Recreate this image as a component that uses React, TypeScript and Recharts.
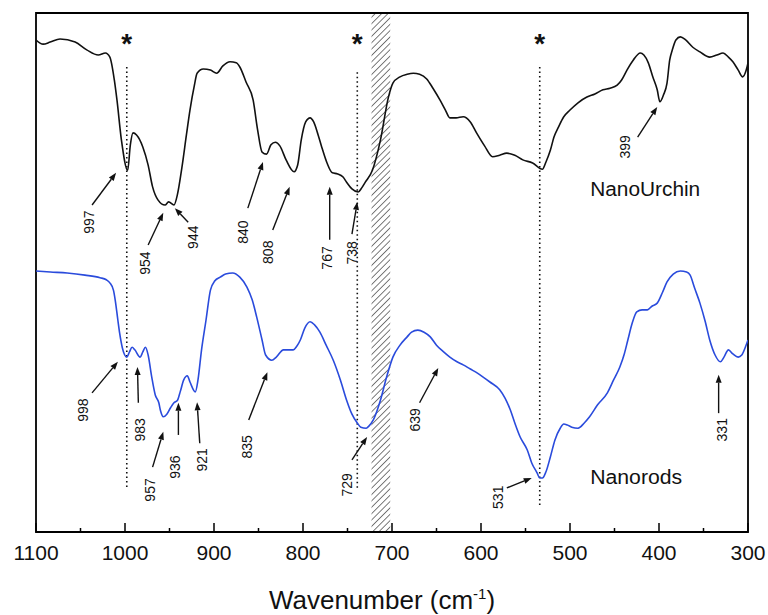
import React from "react";
import {
  LineChart,
  Line,
  XAxis,
  YAxis,
  ReferenceLine,
  ReferenceArea,
  ReferenceDot,
} from "recharts";

// NanoUrchin spectrum (wavenumber, arbitrary transmittance)
const URCHIN_W = [
  1100, 1092, 1084, 1073, 1056, 1043, 1030, 1022, 1017, 1012, 1009, 1004, 997, 994, 991, 987, 980, 974,
  969, 963, 955, 951, 945, 941, 936, 931, 927, 922, 919, 912, 904, 897, 890, 882, 875, 871, 864, 856,
  851, 846, 841, 836, 831, 826, 819, 810, 806, 802, 797, 792, 788, 783, 779, 773, 767, 761, 755, 751,
  745, 738, 734, 730, 722, 713, 704, 699, 691, 683, 676, 669, 661, 654, 646, 640, 635, 628, 620, 612,
  605, 596, 587, 579, 571, 562, 553, 542, 531, 527, 522, 518, 513, 507, 500, 491, 481, 472, 463, 455,
  447, 442, 436, 429, 421, 417, 412, 407, 402, 399, 395, 391, 388, 385, 381, 376, 370, 362, 354, 343,
  335, 328, 322, 317, 311, 306, 302, 300,
];
const URCHIN_T = [
  94.8, 94.0, 94.4, 95.0, 94.4, 92.9, 91.9, 92.3, 91.5, 87.1, 83.2, 75.5, 69.7, 74.6, 76.9, 76.5, 74.2, 70.7,
  66.5, 64.0, 63.0, 63.6, 63.0, 65.1, 70.3, 76.5, 81.3, 86.1, 88.4, 89.2, 89.0, 88.4, 89.8, 90.6, 90.4, 89.6,
  86.7, 83.2, 77.5, 73.2, 72.8, 74.6, 75.1, 74.4, 71.7, 69.4, 70.7, 75.5, 79.0, 79.8, 79.0, 76.5, 74.2, 71.1,
  69.2, 69.0, 68.4, 67.4, 66.1, 65.5, 66.3, 67.4, 69.7, 75.5, 83.8, 86.5, 87.7, 88.2, 88.4, 88.2, 87.3, 85.5,
  83.2, 81.3, 79.8, 79.8, 80.0, 79.0, 76.9, 74.4, 72.3, 72.6, 73.0, 72.6, 71.7, 71.1, 69.9, 71.3, 73.6, 76.1,
  78.0, 80.0, 81.3, 82.7, 83.8, 84.4, 85.2, 85.5, 86.1, 87.1, 89.0, 90.9, 92.3, 91.9, 90.4, 87.7, 85.2, 82.9,
  84.2, 86.5, 90.9, 92.9, 94.8, 95.4, 94.8, 93.4, 92.5, 91.5, 91.9, 92.3, 91.5, 90.6, 89.0, 87.7, 89.0, 90.4,
];

// Nanorods spectrum
const RODS_W = [
  1100, 1084, 1065, 1045, 1028, 1021, 1017, 1013, 1011, 1008, 1006, 1003, 998, 995, 992, 989, 983, 980,
  977, 974, 970, 966, 962, 960, 957, 953, 949, 945, 941, 938, 934, 930, 927, 921, 918, 914, 909, 904,
  899, 893, 887, 879, 871, 863, 857, 852, 846, 842, 835, 830, 822, 817, 811, 807, 803, 798, 792, 787,
  781, 774, 766, 758, 751, 745, 739, 735, 729, 726, 721, 713, 706, 699, 691, 683, 678, 671, 664, 657,
  650, 642, 635, 627, 620, 612, 604, 598, 590, 579, 573, 567, 562, 556, 548, 543, 537, 534, 531, 527,
  522, 517, 511, 507, 503, 498, 491, 484, 478, 469, 458, 451, 444, 439, 435, 430, 425, 419, 413, 408,
  402, 396, 391, 384, 376, 369, 365, 360, 354, 348, 343, 337, 331, 327, 322, 317, 311, 307, 303, 300,
];
const RODS_T = [
  50.3, 50.1, 49.9, 49.5, 49.0, 48.6, 48.0, 46.6, 44.7, 40.8, 38.3, 35.5, 33.7, 34.7, 35.6, 35.1, 33.7, 34.7,
  35.6, 34.1, 29.9, 26.4, 24.9, 23.3, 22.2, 22.7, 23.9, 24.9, 25.4, 27.0, 29.3, 30.1, 28.9, 27.0, 29.3, 35.1,
  40.8, 46.6, 48.4, 49.1, 49.7, 49.9, 49.1, 47.2, 44.7, 41.4, 37.0, 34.1, 33.1, 33.7, 35.1, 35.1, 35.1, 35.8,
  37.0, 39.3, 40.5, 39.9, 38.5, 36.0, 33.1, 29.3, 25.4, 22.7, 21.0, 20.2, 20.0, 20.4, 21.6, 25.4, 29.9, 33.7,
  36.0, 37.6, 38.5, 38.9, 38.5, 37.6, 36.0, 34.7, 33.7, 32.8, 32.2, 31.4, 30.6, 29.9, 28.9, 27.4, 25.8, 23.5,
  21.0, 18.3, 15.8, 13.3, 11.4, 10.4, 10.4, 11.6, 14.5, 17.7, 20.0, 20.8, 20.6, 20.2, 20.0, 21.0, 22.2, 24.5,
  26.8, 29.3, 31.8, 34.3, 37.0, 40.3, 42.4, 42.8, 42.8, 43.5, 44.1, 46.2, 48.2, 49.7, 50.3, 50.1, 49.5, 47.0,
  44.1, 40.5, 37.0, 34.1, 32.8, 33.7, 35.1, 34.3, 33.7, 34.1, 35.6, 37.0,
];

const TICKS = [1100, 1050, 1000, 950, 900, 850, 800, 750, 700, 650, 600, 550, 500, 450, 400, 350, 300];

// peak assignments: label, label centre, arrow tail -> arrow tip (wavenumber, transmittance)
const URCHIN_PEAKS = [
  { label: "997", tx: 1040, ty: 59.7, x1: 1037, y1: 63.0, x2: 1010, y2: 69.2 },
  { label: "954", tx: 978, ty: 51.8, x1: 974, y1: 55.3, x2: 957, y2: 61.5 },
  { label: "944", tx: 924, ty: 56.8, x1: 929, y1: 59.7, x2: 944, y2: 62.4 },
  { label: "840", tx: 867, ty: 57.8, x1: 862, y1: 62.4, x2: 845, y2: 71.3 },
  { label: "808", tx: 839, ty: 53.9, x1: 834, y1: 58.2, x2: 815, y2: 66.5 },
  { label: "767", tx: 773, ty: 52.8, x1: 770, y1: 56.3, x2: 770, y2: 66.5 },
  { label: "738", tx: 745, ty: 53.8, x1: 745, y1: 57.4, x2: 739, y2: 63.6 },
  { label: "399", tx: 438, ty: 74.2, x1: 424, y1: 76.1, x2: 402, y2: 81.9 },
];
const RODS_PEAKS = [
  { label: "998", tx: 1047, ty: 23.5, x1: 1037, y1: 26.8, x2: 1008, y2: 32.8 },
  { label: "983", tx: 983, ty: 19.7, x1: 985, y1: 24.9, x2: 986, y2: 31.8 },
  { label: "957", tx: 972, ty: 8.1, x1: 969, y1: 12.5, x2: 957, y2: 19.3 },
  { label: "936", tx: 944, ty: 12.5, x1: 940, y1: 18.7, x2: 940, y2: 24.9 },
  { label: "921", tx: 913, ty: 13.9, x1: 916, y1: 17.1, x2: 919, y2: 25.0 },
  { label: "835", tx: 863, ty: 16.4, x1: 861, y1: 21.6, x2: 840, y2: 30.8 },
  { label: "729", tx: 751, ty: 9.1, x1: 745, y1: 13.9, x2: 728, y2: 18.3 },
  { label: "639", tx: 674, ty: 21.6, x1: 669, y1: 24.9, x2: 648, y2: 31.6 },
  { label: "531", tx: 581, ty: 6.7, x1: 571, y1: 8.5, x2: 543, y2: 10.4 },
  { label: "331", tx: 329, ty: 19.7, x1: 333, y1: 22.9, x2: 333, y2: 30.3 },
];

// dotted guide lines with asterisk on top
const GUIDES = [
  { x: 998, top: 89.6, bottom: 8.1 },
  { x: 739, top: 88.6, bottom: 8.1 },
  { x: 534, top: 89.6, bottom: 5.2 },
];

const urchinData = URCHIN_W.map((w, i) => ({ w, v: URCHIN_T[i] }));
const rodsData = RODS_W.map((w, i) => ({ w, v: RODS_T[i] }));
const peaks = [...URCHIN_PEAKS, ...RODS_PEAKS];

const FONT = "'Liberation Sans', Arial, Helvetica, sans-serif";
const BLUE = "#2a4bdc";

const WaveTick = (props: any) => {
  const { x, y, payload } = props;
  const major = payload.value % 100 === 0;
  return (
    <g>
      <line x1={x} x2={x} y1={y} y2={y - (major ? 9 : 4)} stroke="#000" strokeWidth={1.5} />
      {major && (
        <text x={x} y={y + 28} textAnchor="middle" fontSize={21} fontFamily={FONT} fill="#111">
          {payload.value}
        </text>
      )}
    </g>
  );
};

const Arrow = (props: any) => {
  const { x1, y1, x2, y2 } = props;
  const dx = x2 - x1;
  const dy = y2 - y1;
  const len = Math.sqrt(dx * dx + dy * dy) || 1;
  const ux = dx / len;
  const uy = dy / len;
  const head = 8;
  const half = 3;
  const bx = x2 - ux * head;
  const by = y2 - uy * head;
  const pts = `${x2},${y2} ${bx - uy * half},${by + ux * half} ${bx + uy * half},${by - ux * half}`;
  return (
    <g>
      <line x1={x1} y1={y1} x2={bx} y2={by} stroke="#111" strokeWidth={1.4} />
      <polygon points={pts} fill="#111" />
    </g>
  );
};

const Hatch = (props: any) => {
  const { x, y, width, height } = props;
  return (
    <g>
      <defs>
        <pattern id="hatch" patternUnits="userSpaceOnUse" width={4.5} height={4.5} patternTransform="rotate(45)">
          <line x1={0} y1={0} x2={0} y2={4.5} stroke="#333" strokeWidth={1.3} />
        </pattern>
      </defs>
      <rect x={x} y={y} width={width} height={height} fill="url(#hatch)" />
    </g>
  );
};

export default function App() {
  return (
    <div style={{ position: "absolute", left: 0, top: 0, width: 768, height: 615, background: "#fff" }}>
      <LineChart width={768} height={615} margin={{ top: 13, right: 20, bottom: 0, left: 36 }}>
        <XAxis
          dataKey="w"
          type="number"
          domain={[300, 1100]}
          reversed
          ticks={TICKS}
          interval={0}
          tickSize={0}
          tickMargin={0}
          tickLine={false}
          axisLine={false}
          tick={<WaveTick />}
          height={83}
          allowDataOverflow
          label={{
            position: "insideBottom",
            content: (p: any) => {
              const vb = p.viewBox;
              return (
                <text x={vb.x + vb.width / 2 - 10} y={vb.y + 77} textAnchor="middle" fontSize={26} fontFamily={FONT} fill="#111">
                  Wavenumber (cm
                  <tspan dy={-10} fontSize={15}>-1</tspan>
                  <tspan dy={10}>)</tspan>
                </text>
              );
            },
          }}
        />
        <YAxis hide type="number" domain={[0, 100]} allowDataOverflow />

        <ReferenceArea x1={723} x2={702} y1={0} y2={100} shape={<Hatch />} />

        {GUIDES.map((g) => (
          <ReferenceLine
            key={`g${g.x}`}
            segment={[{ x: g.x, y: g.top }, { x: g.x, y: g.bottom }]}
            stroke="#111"
            strokeWidth={1.6}
            strokeDasharray="1.5 3"
          />
        ))}
        {GUIDES.map((g) => (
          <ReferenceDot
            key={`s${g.x}`}
            x={g.x}
            y={95}
            shape={(p: any) => (
              <text x={p.cx} y={p.cy + 14} textAnchor="middle" fontSize={28} fontWeight="bold" fontFamily={FONT} fill="#111">
                *
              </text>
            )}
          />
        ))}

        <Line data={urchinData} dataKey="v" type="monotone" stroke="#111" strokeWidth={1.6} dot={false} isAnimationActive={false} />
        <Line data={rodsData} dataKey="v" type="monotone" stroke={BLUE} strokeWidth={1.6} dot={false} isAnimationActive={false} />

        {peaks.map((p) => (
          <ReferenceLine
            key={`a${p.label}`}
            segment={[{ x: p.x1, y: p.y1 }, { x: p.x2, y: p.y2 }]}
            shape={<Arrow />}
          />
        ))}
        {peaks.map((p) => (
          <ReferenceDot
            key={`t${p.label}`}
            x={p.tx}
            y={p.ty}
            shape={(s: any) => (
              <text
                x={s.cx}
                y={s.cy}
                transform={`rotate(-90 ${s.cx} ${s.cy})`}
                textAnchor="middle"
                dominantBaseline="central"
                fontSize={14}
                fontFamily={FONT}
                fill="#111"
              >
                {p.label}
              </text>
            )}
          />
        ))}

        <ReferenceDot
          x={520}
          y={66}
          shape={(s: any) => (
            <text x={s.cx + 38} y={s.cy} dominantBaseline="central" textAnchor="start" fontSize={20} fontFamily={FONT} fill="#111" textLength={110} lengthAdjust="spacingAndGlyphs">
              NanoUrchin
            </text>
          )}
        />
        <ReferenceDot
          x={520}
          y={10.6}
          shape={(s: any) => (
            <text x={s.cx + 38} y={s.cy} dominantBaseline="central" textAnchor="start" fontSize={20} fontFamily={FONT} fill="#111" textLength={92} lengthAdjust="spacingAndGlyphs">
              Nanorods
            </text>
          )}
        />

        <ReferenceArea x1={1100} x2={300} y1={0} y2={100} fill="none" fillOpacity={0} stroke="#000" strokeWidth={1.8} />
      </LineChart>
    </div>
  );
}
